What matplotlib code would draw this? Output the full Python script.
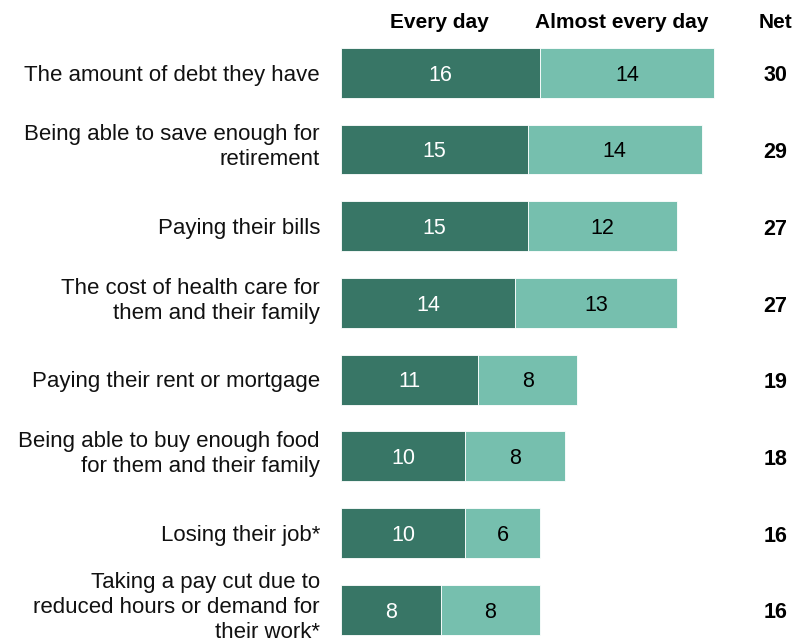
import matplotlib.pyplot as plt

# Share of adults worrying about each item
categories = [
    "The amount of debt they have",
    "Being able to save enough for\nretirement",
    "Paying their bills",
    "The cost of health care for\nthem and their family",
    "Paying their rent or mortgage",
    "Being able to buy enough food\nfor them and their family",
    "Losing their job*",
    "Taking a pay cut due to\nreduced hours or demand for\ntheir work*",
]
every_day = [16, 15, 15, 14, 11, 10, 10, 8]
almost_every_day = [14, 14, 12, 13, 8, 8, 6, 8]
net = [30, 29, 27, 27, 19, 18, 16, 16]

DARK = "#387666"
LIGHT = "#76bfae"
FONT = "Liberation Sans"

fig = plt.figure(figsize=(7.98, 6.42), dpi=100)
ax = fig.add_axes([341 / 798, 0, 457 / 798, 1])
ax.set_xlim(0, 457 / 12.44)
ax.set_ylim(7.42, -0.95)
ax.axis("off")

y = list(range(len(categories)))
ax.barh(y, every_day, height=0.65, color=DARK, edgecolor="white", linewidth=0.6)
ax.barh(y, almost_every_day, left=every_day, height=0.65, color=LIGHT,
        edgecolor="white", linewidth=0.6)

for i, cat in enumerate(categories):
    # single-line labels sit on the bar centre, wrapped ones slightly above
    dy = 0.03 if "\n" not in cat else -0.03
    ax.text(-1.69, i + dy, cat, ha="right", va="center",
            fontsize=16, family=FONT, linespacing=1.24, color="#111111")
    ax.text(every_day[i] / 2, i + 0.03, str(every_day[i]), ha="center",
            va="center", fontsize=15.5, family=FONT, color="white")
    ax.text(every_day[i] + almost_every_day[i] / 2, i + 0.03,
            str(almost_every_day[i]), ha="center", va="center",
            fontsize=15.5, family=FONT, color="black")
    ax.text(34.9, i + 0.04, str(net[i]), ha="center", va="center",
            fontsize=15.5, family=FONT, fontweight="bold", color="black")

# Column headers
ax.text(7.9, -0.66, "Every day", ha="center", va="center", fontsize=15,
        family=FONT, fontweight="bold")
ax.text(22.6, -0.66, "Almost every day", ha="center", va="center",
        fontsize=15, family=FONT, fontweight="bold")
ax.text(34.9, -0.66, "Net", ha="center", va="center", fontsize=15,
        family=FONT, fontweight="bold")

fig.savefig("out.png", dpi=100)
